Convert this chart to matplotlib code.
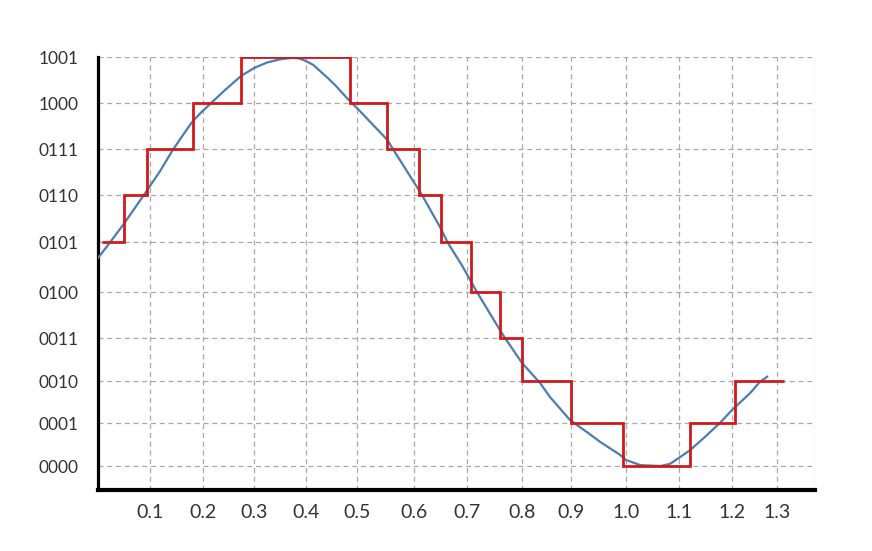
import numpy as np
import matplotlib.pyplot as plt

plt.rcParams['font.family'] = ['Lato', 'DejaVu Sans']

# niveis de quantizacao (4 bits)
niveis = ['0000', '0001', '0010', '0011', '0100', '0101', '0110', '0111', '1000', '1001']

# sinal analogico
x_sinal = [0.0, 0.023, 0.05, 0.09, 0.119, 0.143, 0.162, 0.179, 0.196, 0.214, 0.243,
           0.275, 0.3, 0.325, 0.35, 0.365, 0.375, 0.385, 0.392, 0.4, 0.414, 0.427,
           0.443, 0.457, 0.471, 0.486, 0.5, 0.553, 0.563, 0.609, 0.615, 0.649, 0.664,
           0.69, 0.718, 0.76, 0.769, 0.8, 0.837, 0.857, 0.898, 0.931, 0.953, 0.989,
           1.0, 1.027, 1.065, 1.083, 1.1, 1.121, 1.151, 1.177, 1.2, 1.24, 1.262, 1.278]
y_sinal = [4.68, 4.99, 5.39, 6.03, 6.52, 6.98, 7.30, 7.58, 7.79, 7.98, 8.28,
           8.59, 8.76, 8.88, 8.95, 8.97, 8.98, 8.97, 8.95, 8.91, 8.83, 8.70,
           8.54, 8.39, 8.22, 8.04, 7.89, 7.2, 7.0, 6.11, 6.0, 5.32, 4.98,
           4.54, 4.0, 3.17, 3.0, 2.42, 1.95, 1.62, 1.07, 0.77, 0.56, 0.26,
           0.14, 0.02, 0.0, 0.05, 0.19, 0.37, 0.70, 1.0, 1.31, 1.71, 1.98, 2.1]

# sinal quantizado (degraus)
bordas = [0.008, 0.05, 0.094, 0.181, 0.275, 0.486, 0.553, 0.609, 0.651, 0.707,
          0.76, 0.8, 0.9, 0.995, 1.121, 1.207, 1.313]
degraus = [5, 6, 7, 8, 9, 8, 7, 6, 5, 4, 3, 2, 1, 0, 1, 2]

x_ticks = [0.1, 0.2, 0.3, 0.4, 0.5, 0.6, 0.7, 0.8, 0.9, 1.0, 1.1, 1.2, 1.3]
x_labels = ['0.1', '0.2', '0.3', '0.4', '0.5', '0.6', '0.7', '0.8', '0.9', '1.0', '1.1', '1.2', '1.3']

########################################################################
# a grade do desenho original nao e uniforme: escala por partes
gx_val = np.array([-0.1, 0.0, 0.1, 0.2, 0.3, 0.4, 0.5, 0.6, 0.7, 0.8, 0.9, 1.0, 1.1, 1.2, 1.3, 1.5])
gx_px = np.array([46, 98, 150, 203, 254, 306, 357, 414, 467, 522, 571, 626, 679, 732, 777, 881.0])
gy_val = np.arange(-1, 11)
gy_px = -np.array([509, 466, 423, 381, 338, 292, 242, 195, 149, 103, 57, 11.0])

def fx(v):
    return np.interp(v, gx_val, gx_px)

def fx_inv(p):
    return np.interp(p, gx_px, gx_val)

def fy(v):
    return np.interp(v, gy_val, gy_px)

def fy_inv(p):
    return np.interp(p, gy_px, gy_val)

########################################################################
fig = plt.figure(figsize=(8.72, 5.51), dpi=100)
ax = fig.add_axes([98 / 872, 61 / 551, 717 / 872, 433 / 551])
ax.set_xscale('function', functions=(fx, fx_inv))
ax.set_yscale('function', functions=(fy, fy_inv))

ax.set_xlim(0, 1.373)
ax.set_ylim(-0.558, 9)

ax.set_xticks(x_ticks)
ax.set_xticklabels(x_labels)
ax.set_yticks(range(len(niveis)))
ax.set_yticklabels(niveis)
ax.minorticks_off()

grade = dict(color='#a8a8a8', linestyle=(0, (4, 3)), linewidth=0.9)
ax.grid(True, **grade)
ax.axvline(1.373, **grade)
ax.set_axisbelow(True)

ax.plot(x_sinal, y_sinal, color='#4a7db3', linewidth=1.6, zorder=3)
ax.stairs(degraus, bordas, baseline=None, color='#d0191c', linewidth=2.0, zorder=4)

for s in ['top', 'right']:
    ax.spines[s].set_visible(False)
ax.spines['left'].set_linewidth(2.3)
ax.spines['bottom'].set_linewidth(3)

ax.tick_params(axis='both', length=0, colors='#333333')
ax.tick_params(axis='y', pad=14, labelsize=12.5)
ax.tick_params(axis='x', pad=10, labelsize=14)

plt.savefig('out.png', dpi=100)
